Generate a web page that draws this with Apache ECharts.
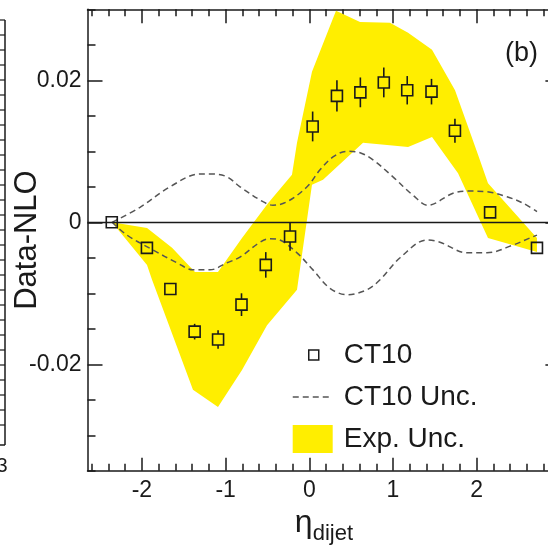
<!DOCTYPE html>
<html><head><meta charset="utf-8">
<script src="https://cdn.jsdelivr.net/npm/echarts@6/dist/echarts.min.js"></script>
<style>html,body{margin:0;padding:0;background:#fff}#c{width:548px;height:546px}</style>
</head><body><div id="c"></div>
<script>
// ---- data ----
const etaPoints = [-2.36, -1.94, -1.66, -1.37, -1.09, -0.81, -0.52, -0.23, 0.04, 0.33, 0.61, 0.89, 1.17, 1.46, 1.74, 2.16, 2.72];
const dataMinusNLO = [0, -0.0036, -0.0094, -0.0154, -0.0165, -0.0116, -0.0060, -0.0020, 0.0135, 0.0178, 0.0183, 0.0197, 0.0186, 0.0184, 0.0129, 0.0014, -0.0036];
const statErr = [0.0004, 0.0004, 0.0005, 0.0011, 0.0013, 0.0016, 0.0018, 0.0020, 0.0021, 0.0022, 0.0021, 0.0021, 0.0020, 0.0018, 0.0017, 0.0008, 0.0004];

const ct10UpX = [-2.357, -2.023, -1.665, -1.306, -1.151, -0.983, -0.828, -0.553, -0.434, -0.266, -0.027, 0.128, 0.283, 0.450, 0.606, 0.761, 1.000, 1.239, 1.418, 1.717, 1.884, 2.123, 2.362, 2.553, 2.720];
const ct10UpY = [0, 0.0021, 0.0050, 0.0068, 0.0068, 0.0064, 0.0050, 0.0029, 0.0024, 0.0029, 0.0050, 0.0074, 0.0092, 0.0100, 0.0098, 0.0088, 0.0064, 0.0038, 0.0024, 0.0041, 0.0044, 0.0043, 0.0036, 0.0027, 0.0015];
const ct10LowX = [-2.357, -2.178, -1.868, -1.581, -1.390, -1.187, -0.983, -0.828, -0.589, -0.469, -0.350, -0.147, 0.044, 0.247, 0.450, 0.689, 0.845, 1.084, 1.406, 1.561, 1.884, 2.123, 2.434, 2.637, 2.720];
const ct10LowY = [0, -0.0018, -0.0039, -0.0057, -0.0067, -0.0067, -0.0057, -0.0049, -0.0028, -0.0023, -0.0025, -0.0043, -0.0067, -0.0093, -0.0102, -0.0095, -0.0081, -0.0050, -0.0025, -0.0028, -0.0043, -0.0043, -0.0032, -0.0022, -0.0018];

const expUpX = [-2.357, -1.939, -1.640, -1.366, -1.091, -0.804, -0.493, -0.207, -0.147, 0.032, 0.319, 0.606, 0.964, 1.180, 1.466, 1.741, 2.016, 2.135, 2.720];
const expUpY = [0, -0.0008, -0.0036, -0.0070, -0.0070, -0.0022, 0.0027, 0.0067, 0.0112, 0.0212, 0.0298, 0.0282, 0.0281, 0.0267, 0.0243, 0.0186, 0.0095, 0.0055, -0.0022];
const expLowX = [-2.357, -1.939, -1.879, -1.390, -1.091, -0.804, -0.505, -0.147, 0.032, 0.164, 0.642, 0.929, 1.180, 1.466, 1.777, 2.135, 2.720];
const expLowY = [0, -0.0060, -0.0081, -0.0236, -0.0260, -0.0208, -0.0145, -0.0095, 0.0053, 0.0060, 0.0112, 0.0109, 0.0106, 0.0120, 0.0069, -0.0022, -0.0042];

const xMajorTicks = [-2, -1, 0, 1, 2];
const xMinorTicks = [-2.6, -2.4, -2.2, -1.8, -1.6, -1.4, -1.2, -0.8, -0.6, -0.4, -0.2, 0.2, 0.4, 0.6, 0.8, 1.2, 1.4, 1.6, 1.8, 2.2, 2.4, 2.6, 2.8];
const yMajorTicks = [-0.02, 0, 0.02];
const yMinorTicks = [-0.035, -0.03, -0.025, -0.015, -0.01, -0.005, 0.005, 0.01, 0.015, 0.025, 0.03];

// ---- styling ----
const FONT = 'Liberation Sans, Arial, sans-serif';
const INK = '#1a1a1a';
const YELLOW = '#ffee00';
const X_MIN = -2.65, X_MAX = 3.0, Y_MIN = -0.035, Y_MAX = 0.03;

function xAx(pos, ticks, len, main) {
  return {
    type: 'value', position: pos, min: X_MIN, max: X_MAX,
    axisLine: { show: main, onZero: false, lineStyle: { color: INK, width: 1.5 } },
    axisTick: { show: true, inside: true, length: len, customValues: ticks, lineStyle: { color: INK, width: 1.5 } },
    axisLabel: main && pos === 'bottom' ? { show: true, customValues: xMajorTicks, fontSize: 23, fontFamily: FONT, color: INK, margin: 8 } : { show: false },
    splitLine: { show: false }
  };
}
function yAx(pos, ticks, len, main) {
  return {
    type: 'value', position: pos, min: Y_MIN, max: Y_MAX,
    axisLine: { show: main, onZero: false, lineStyle: { color: INK, width: 1.5 } },
    axisTick: { show: true, inside: true, length: len, customValues: ticks, lineStyle: { color: INK, width: 1.5 } },
    axisLabel: main && pos === 'left' ? { show: true, customValues: yMajorTicks, fontSize: 23, fontFamily: FONT, color: INK, margin: 6 } : { show: false },
    splitLine: { show: false }
  };
}

const xAxes = [xAx('bottom', xMajorTicks, 13, true), xAx('bottom', xMinorTicks, 7, false), xAx('top', xMajorTicks, 14, true), xAx('top', xMinorTicks, 7, false)];
xAxes[0].name = '{eta|η}{sub|dijet}';
xAxes[0].nameLocation = 'middle';
xAxes[0].nameGap = 27;
xAxes[0].nameTextStyle = { color: INK, fontFamily: FONT, rich: { eta: { fontSize: 32, fontFamily: FONT, color: INK }, sub: { fontSize: 22, fontFamily: FONT, color: INK, padding: [22, 0, 0, 0] } } };

const yAxes = [yAx('left', yMajorTicks, 15, true), yAx('left', yMinorTicks, 8, false), yAx('right', yMajorTicks, 15, true), yAx('right', yMinorTicks, 8, false)];
yAxes[0].name = 'Data-NLO';
yAxes[0].nameLocation = 'middle';
yAxes[0].nameRotate = 90;
yAxes[0].nameGap = 45;
yAxes[0].nameMoveOverlap = false;
yAxes[0].nameTextStyle = { fontSize: 31, fontFamily: FONT, color: INK };

const pointData = etaPoints.map((x, i) => [x, dataMinusNLO[i], statErr[i]]);

const option = {
  animation: false,
  backgroundColor: '#fff',
  textStyle: { fontFamily: FONT },
  grid: { left: 87.5, right: -12.4, top: 9.3, bottom: 75.2, outerBoundsMode: 'none', containLabel: false },
  xAxis: xAxes,
  yAxis: yAxes,
  legend: [
    { data: [{ name: 'CT10', icon: 'rect', itemStyle: { color: '#fff', borderColor: INK, borderWidth: 1.5 } }],
      left: 308, top: 341, padding: 0, itemWidth: 10, itemHeight: 10, selectedMode: false,
      textStyle: { fontSize: 28, fontFamily: FONT, color: INK, padding: [0, 0, 0, 20] } },
    { data: [{ name: 'CT10 Unc.', itemStyle: { color: 'rgba(0,0,0,0)', borderWidth: 0, opacity: 0 } }],
      left: 292, top: 383, padding: 0, itemWidth: 40, itemHeight: 14, selectedMode: false,
      lineStyle: { color: '#555', width: 1.5, type: [6, 4] },
      textStyle: { fontSize: 28, fontFamily: FONT, color: INK, padding: [0, 0, 0, 6] } },
    { data: [{ name: 'Exp. Unc.', icon: 'rect', itemStyle: { color: YELLOW } }],
      left: 292.7, top: 425, padding: 0, itemWidth: 40, itemHeight: 28, selectedMode: false,
      textStyle: { fontSize: 28, fontFamily: FONT, color: INK, padding: [0, 0, 0, 6] } }
  ],
  graphic: [
    { type: 'text', left: 505, top: 40, style: { text: '(b)', fontSize: 27, fontFamily: FONT, fill: INK } },
    { type: 'line', shape: { x1: 5, y1: 20, x2: 5, y2: 445 }, style: { stroke: INK, lineWidth: 1.5 } },
    { type: 'line', shape: { x1: 0, y1: 445, x2: 5, y2: 445 }, style: { stroke: INK, lineWidth: 1.5 } },
    { type: 'text', x: 2, y: 456, style: { text: '3', fontSize: 20, fontFamily: FONT, fill: INK, align: 'center' } }
  ].concat(Array.from({ length: 28 }, (_, k) => ({ type: 'line', shape: { x1: 0, y1: 20 + 15 * k, x2: 5, y2: 20 + 15 * k }, style: { stroke: INK, lineWidth: 1.2 } }))),
  series: [
    {
      name: 'Exp. Unc.', type: 'custom', z: 1, xAxisIndex: 0, yAxisIndex: 0,
      itemStyle: { color: YELLOW },
      data: [[0, 0]],
      renderItem: function (params, api) {
        const pts = [];
        for (let i = 0; i < expUpX.length; i++) pts.push(api.coord([expUpX[i], expUpY[i]]));
        for (let i = expLowX.length - 1; i >= 0; i--) pts.push(api.coord([expLowX[i], expLowY[i]]));
        return { type: 'polygon', shape: { points: pts }, style: { fill: YELLOW } };
      }
    },
    {
      name: 'CT10 Unc.', type: 'line', z: 2, smooth: 0.35, symbol: 'none', showSymbol: false, xAxisIndex: 0, yAxisIndex: 0,
      lineStyle: { color: '#555', width: 1.5, type: [6, 4] },
      itemStyle: { color: '#555' },
      data: ct10UpX.map((x, i) => [x, ct10UpY[i]])
    },
    {
      name: 'CT10 Unc.', type: 'line', z: 2, smooth: 0.35, symbol: 'none', showSymbol: false, xAxisIndex: 0, yAxisIndex: 0,
      lineStyle: { color: '#555', width: 1.5, type: [6, 4] },
      itemStyle: { color: '#555' },
      data: ct10LowX.map((x, i) => [x, ct10LowY[i]])
    },
    {
      name: 'CT10 err', type: 'custom', z: 4, xAxisIndex: 0, yAxisIndex: 0,
      data: pointData,
      renderItem: function (params, api) {
        const x = api.value(0), y = api.value(1), e = api.value(2);
        const c = api.coord([x, y]);
        const hi = api.coord([x, y + e]);
        const lo = api.coord([x, y - e]);
        const half = 5.5;
        const kids = [];
        if (c[1] - half > hi[1]) kids.push({ type: 'line', shape: { x1: c[0], y1: hi[1], x2: c[0], y2: c[1] - half }, style: { stroke: INK, lineWidth: 1.6 } });
        if (lo[1] > c[1] + half) kids.push({ type: 'line', shape: { x1: c[0], y1: c[1] + half, x2: c[0], y2: lo[1] }, style: { stroke: INK, lineWidth: 1.6 } });
        return { type: 'group', children: kids };
      }
    },
    {
      name: 'CT10', type: 'scatter', z: 5, xAxisIndex: 0, yAxisIndex: 0,
      symbol: 'rect', symbolSize: 11,
      itemStyle: { color: 'rgba(0,0,0,0)', borderColor: INK, borderWidth: 1.6, opacity: 1 },
      data: pointData.map(d => [d[0], d[1]]),
      markLine: {
        silent: true, symbol: 'none', animation: false,
        label: { show: false },
        lineStyle: { color: INK, width: 1.4, type: 'solid' },
        data: [{ yAxis: 0 }]
      }
    }
  ]
};

const chart = echarts.init(document.getElementById('c'), null, { renderer: 'canvas' });
chart.setOption(option);
</script></body></html>
